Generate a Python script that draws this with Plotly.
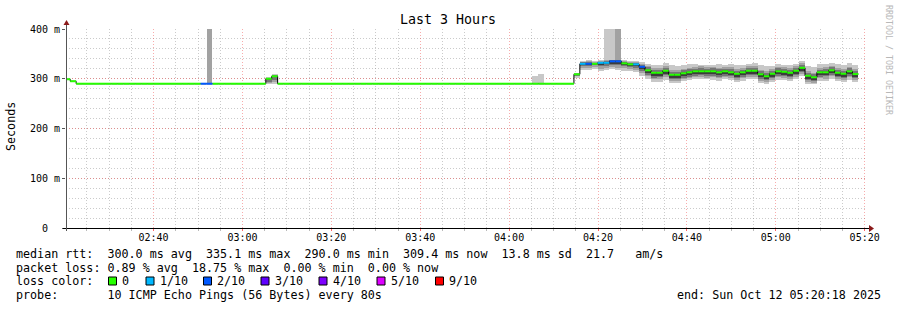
import pandas as pd
import plotly.graph_objects as go

# ---------------- data ----------------
window_start = pd.Timestamp("2025-10-12 02:20:18")
window_end = pd.Timestamp("2025-10-12 05:20:18")
first_step_start = pd.Timestamp("2025-10-12 02:19:55")
step_seconds = 80

# median RTT per 80 s step (ms)
median_ms = [
    299, 295,
    290, 290, 290, 290, 290, 290, 290, 290, 290, 290,
    290, 290, 290, 290, 290, 290, 290, 290, 290, 290, 290,
    290, 290,
    290, 290, 290, 290, 290, 290, 290, 290, 290,
    300, 305,
    290, 290, 290, 290, 290, 290, 290, 290, 290, 290,
    290, 290, 290, 290, 290, 290, 290, 290, 290, 290,
    290, 290, 290, 290, 290, 290, 290, 290, 290, 290,
    290, 290, 290, 290, 290, 290, 290, 290, 290, 290,
    290, 290, 290, 290, 290, 290, 290, 290, 290, 290,
    309,
    330, 330, 330, 332, 332, 335, 335, 331, 329, 329, 324,
    317, 312, 312, 316, 308, 308, 311, 313, 315, 315,
    315, 315, 313, 315, 313, 310, 313, 316, 316, 309,
    305, 310, 315, 314, 312, 316, 322, 306, 303, 313,
    313, 317, 312, 310, 315, 309.4,
]

# steps with packet loss (index into median_ms) and lost pings out of 10
loss_step = [23, 24, 87, 88, 90, 91, 92, 93, 96, 97]
loss_count = [2, 2, 1, 2, 1, 1, 2, 2, 1, 2]

# smoke (ping spread) for the steps that show it, lightest layer first
smoke_step = [24, 34, 35, 79, 80] + list(range(86, 134))
smoke1_lo = [290, 290, 290, 290, 290, 302, 318, 317, 319, 316, 318, 320, 318, 316, 315, 314, 306,
             300, 294, 293, 298, 291, 292, 295, 298, 300, 299, 300, 298, 296, 299, 297, 293, 296, 300,
             299, 291, 290, 293, 298, 297, 296, 299, 305, 290, 290, 296, 296, 300, 296, 294, 298, 294]
smoke1_hi = [290, 303, 310, 305, 310, 312, 336, 337, 336, 338, 420, 420, 339, 337, 336, 335, 333,
             330, 327, 328, 331, 327, 326, 328, 329, 330, 328, 327, 327, 329, 328, 329, 327, 328, 330,
             331, 327, 325, 326, 329, 328, 327, 330, 335, 325, 323, 330, 330, 331, 329, 328, 331, 327]
smoke2_lo = [290, 291, 293, 290, 290, 305, 322, 322, 323, 320, 322, 324, 322, 321, 319, 318, 311,
             305, 300, 299, 304, 295, 296, 299, 301, 303, 303, 302, 303, 301, 303, 301, 297, 301, 304,
             304, 296, 293, 298, 303, 302, 299, 304, 310, 294, 291, 301, 300, 305, 300, 297, 303, 297]
smoke2_hi = [420, 300, 307, 290, 290, 310, 334, 335, 334, 336, 337, 338, 420, 335, 333, 333, 330,
             326, 322, 321, 325, 318, 317, 320, 322, 324, 325, 324, 324, 322, 324, 323, 319, 322, 325,
             326, 318, 315, 319, 324, 323, 321, 325, 331, 316, 312, 322, 323, 326, 321, 319, 324, 319]
smoke3_lo = [290, 293, 297, 290, 290, 307, 326, 326, 327, 325, 326, 328, 327, 326, 324, 322, 316,
             308, 302, 303, 307, 299, 300, 302, 304, 306, 307, 306, 306, 304, 306, 305, 301, 304, 307,
             308, 300, 297, 301, 306, 305, 303, 307, 313, 298, 295, 304, 305, 308, 303, 301, 306, 301]
smoke3_hi = [290, 299, 305, 290, 290, 310, 333, 333, 332, 334, 335, 337, 337, 333, 331, 331, 328,
             323, 318, 317, 321, 314, 313, 317, 319, 320, 321, 320, 321, 319, 320, 319, 316, 318, 322,
             321, 315, 311, 315, 321, 319, 318, 321, 327, 312, 309, 318, 319, 323, 318, 315, 321, 315]
smoke4_lo = [290, 300, 305, 290, 290, 309, 328, 328, 330, 329, 330, 331, 331, 328, 326, 325, 320,
             311, 306, 306, 310, 302, 302, 305, 307, 309, 309, 309, 309, 307, 309, 307, 304, 307, 310,
             310, 303, 299, 304, 309, 308, 306, 310, 316, 300, 297, 307, 307, 311, 306, 304, 309, 303]
smoke4_hi = [290, 300, 305, 290, 290, 309, 331, 331, 330, 333, 333, 335, 335, 332, 330, 330, 326,
             318, 313, 313, 317, 309, 309, 312, 314, 316, 316, 316, 316, 314, 316, 314, 311, 314, 317,
             317, 310, 306, 311, 316, 315, 313, 317, 323, 307, 304, 314, 314, 318, 313, 311, 316, 310]

loss_labels = ["0", "1/10", "2/10", "3/10", "4/10", "5/10", "9/10"]
loss_levels = [0, 1, 2, 3, 4, 5, 9]

y_tickvals = [0, 100, 200, 300, 400]
y_ticktext = ["0\u00a0\u00a0", "100 m", "200 m", "300 m", "400 m"]

title_text = "Last 3 Hours"
legend_line1 = "median rtt:  300.0 ms avg  335.1 ms max  290.0 ms min  309.4 ms now  13.8 ms sd  21.7   am/s"
legend_line2 = "packet loss: 0.89 % avg  18.75 % max  0.00 % min  0.00 % now"
legend_line3 = "loss color:"
legend_line4 = "probe:       10 ICMP Echo Pings (56 Bytes) every 80s"
end_text = "end: Sun Oct 12 05:20:18 2025"

# ---------------- styles ----------------
LOSS_COLORS = {0: "#26ff00", 1: "#00b8ff", 2: "#0059ff", 3: "#5e00ff",
               4: "#7e00ff", 5: "#dd00ff", 9: "#ff0000"}
SMOKE_COLORS = ["#c8c8c8", "#a2a2a2", "#767676", "#3c3c3c"]
MONO = "DejaVu Sans Mono"

W, H = 897, 310
PL, PR, PT, PB = 66, 866, 29, 228


def xp(px):
    return (px - PL) / (PR - PL)


def yp(py):
    return (PB - py) / (PB - PT)


step = pd.Timedelta(seconds=step_seconds)
starts = [first_step_start + i * step for i in range(len(median_ms))]
loss_of = {s: c for s, c in zip(loss_step, loss_count)}

fig = go.Figure()

# smoke layers
layers = [(smoke1_lo, smoke1_hi), (smoke2_lo, smoke2_hi),
          (smoke3_lo, smoke3_hi), (smoke4_lo, smoke4_hi)]
for (lo, hi), col in zip(layers, SMOKE_COLORS):
    fig.add_trace(go.Bar(
        x=[starts[i] + step / 2 for i in smoke_step],
        y=[h - l for l, h in zip(lo, hi)],
        base=lo,
        width=step_seconds * 1000,
        marker=dict(color=col, line=dict(width=0)),
        hoverinfo="skip",
    ))

# black median step line
fig.add_trace(go.Scatter(
    x=starts + [starts[-1] + step],
    y=median_ms + [median_ms[-1]],
    mode="lines",
    line=dict(color="#000000", width=1, shape="hv"),
    hoverinfo="skip",
))

# loss coloured median segments
for lvl in loss_levels:
    xs, ys = [], []
    for i, m in enumerate(median_ms):
        if loss_of.get(i, 0) == lvl:
            xs += [starts[i], starts[i] + step, None]
            ys += [m, m, None]
    if xs:
        fig.add_trace(go.Scatter(
            x=xs, y=ys, mode="lines",
            line=dict(color=LOSS_COLORS[lvl], width=2),
            hoverinfo="skip",
        ))

GRID_MAJOR = "rgba(240,70,70,0.45)"
GRID_MINOR = "rgba(140,140,140,0.45)"
GRID_DASH = "1px,2px"

fig.update_xaxes(
    type="date", range=[window_start, window_end],
    tickformat="%H:%M", dtick=20 * 60 * 1000, tick0="2025-10-12 02:40:00",
    showgrid=True, gridcolor=GRID_MAJOR, griddash=GRID_DASH, gridwidth=1,
    ticks="outside", ticklen=2, tickcolor="rgba(255,0,0,0.6)",
    minor=dict(dtick=5 * 60 * 1000, tick0="2025-10-12 02:40:00", showgrid=True,
               gridcolor=GRID_MINOR, griddash=GRID_DASH, gridwidth=1,
               ticks="outside", ticklen=2, tickcolor="#bbbbbb"),
    showline=False, zeroline=False,
    tickfont=dict(family=MONO, size=10, color="#000"),
    ticklabelstandoff=-2,
)
fig.update_yaxes(
    range=[0, 400], tickvals=y_tickvals, ticktext=y_ticktext,
    showgrid=True, gridcolor=GRID_MAJOR, griddash=GRID_DASH, gridwidth=1,
    ticks="outside", ticklen=3, tickcolor="#555555",
    minor=dict(dtick=20, showgrid=True, gridcolor=GRID_MINOR, griddash=GRID_DASH, gridwidth=1),
    showline=False, zeroline=False,
    tickfont=dict(family=MONO, size=10, color="#000"),
    ticklabelstandoff=0,
)

shapes = []
# x axis line + arrow
shapes.append(dict(type="line", xref="paper", yref="paper",
                   x0=xp(63), x1=xp(870), y0=yp(228.5), y1=yp(228.5),
                   line=dict(color="#000000", width=1)))
shapes.append(dict(type="path", xref="paper", yref="paper",
                   path=f"M {xp(869)},{yp(225)} L {xp(874)},{yp(228.5)} L {xp(869)},{yp(232)} Z",
                   fillcolor="#8b1a1a", line=dict(width=0)))
# y axis line + arrow
shapes.append(dict(type="line", xref="paper", yref="paper",
                   x0=xp(66.5), x1=xp(66.5), y0=yp(231), y1=yp(23),
                   line=dict(color="#555555", width=1)))
shapes.append(dict(type="path", xref="paper", yref="paper",
                   path=f"M {xp(63.5)},{yp(25)} L {xp(66.5)},{yp(20)} L {xp(69.5)},{yp(25)} Z",
                   fillcolor="#8b1a1a", line=dict(width=0)))

annotations = []


def text(s, x, y, size=11.7, xanchor="left", color="#000", angle=0):
    annotations.append(dict(text=s, xref="paper", yref="paper", x=xp(x), y=yp(y),
                            xanchor=xanchor, yanchor="middle", showarrow=False,
                            borderpad=0, borderwidth=0, textangle=angle,
                            font=dict(family=MONO, size=size, color=color)))


text(title_text, 448, 19, size=13.3, xanchor="center")
text("Seconds", 11, 126, size=11.7, xanchor="center", angle=-90)
text("RRDTOOL / TOBI OETIKER", 889, 60, size=8.3, xanchor="center",
     color="#b8b8b8", angle=90)
text(legend_line1, 15.5, 254)
text(legend_line2, 15.5, 267.5)
text(legend_line3, 15.5, 281)
text(legend_line4, 15.5, 294.5)
text(end_text, 880.5, 294.5, xanchor="right")

sq_x = [108.5, 146, 203.5, 261, 319, 377, 435.5]
lab_x = [122.3, 159.7, 217.3, 275.3, 333, 391, 449]
for lbl, lvl, sx, lx in zip(loss_labels, loss_levels, sq_x, lab_x):
    shapes.append(dict(type="rect", xref="paper", yref="paper",
                       x0=xp(sx), x1=xp(sx + 8), y0=yp(285), y1=yp(277),
                       fillcolor=LOSS_COLORS[lvl], line=dict(color="#000", width=1)))
    text(lbl, lx, 281)

fig.update_layout(
    width=W, height=H,
    margin=dict(l=PL, r=W - PR, t=PT, b=H - PB, pad=0),
    paper_bgcolor="white", plot_bgcolor="white",
    barmode="overlay", bargap=0, showlegend=False,
    shapes=shapes, annotations=annotations,
    font=dict(family=MONO, size=10, color="#000"),
)

fig.write_html("out.html")
